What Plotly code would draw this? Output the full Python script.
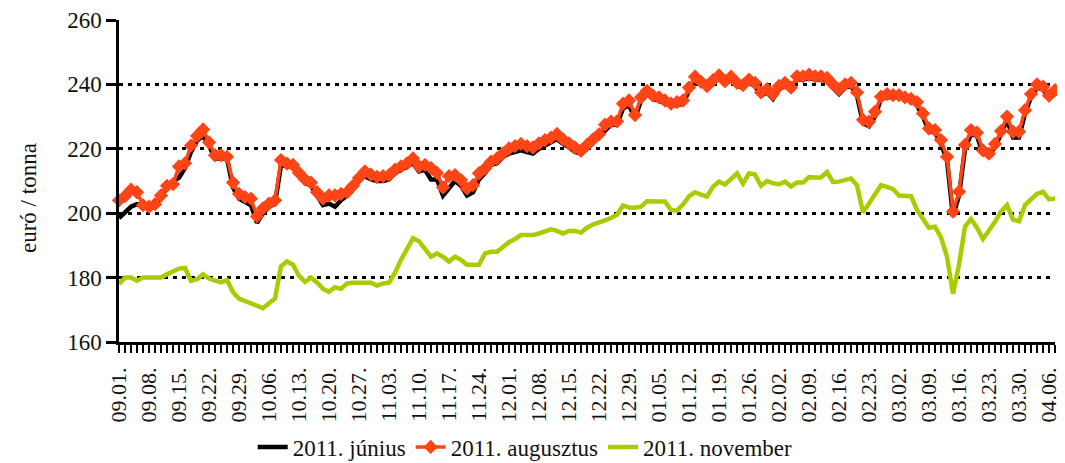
import plotly.graph_objects as go
import pandas as pd

# business-day categories (09.01.2010 - 04.07.2011)
dates = pd.bdate_range("2010-09-01", "2011-04-07")
categories = [d.strftime("%m.%d.") for d in dates]

tick_labels = ["09.01.", "09.08.", "09.15.", "09.22.", "09.29.", "10.06.", "10.13.", "10.20.",
               "10.27.", "11.03.", "11.10.", "11.17.", "11.24.", "12.01.", "12.08.", "12.15.",
               "12.22.", "12.29.", "01.05.", "01.12.", "01.19.", "01.26.", "02.02.", "02.09.",
               "02.16.", "02.23.", "03.02.", "03.09.", "03.16.", "03.23.", "03.30.", "04.06."]

junius = [198.5, 200.5, 202, 202.8, 202.5, 202, 202.5, 205, 208.5, 210, 211, 214, 219, 222.5, 224, 221,
          217, 217, 217, 208, 204.5, 203.5, 202.5, 197, 200, 202, 203, 215, 214.5, 214.5, 211.5, 209.5,
          208.5, 205.5, 202.5, 203, 202, 204, 205.5, 207.5, 210.5, 211.5, 210.5, 210, 210, 210.5, 212.5,
          213.5, 214.5, 215.5, 213, 213.5, 210.5, 210.5, 205.5, 208, 210, 208.5, 205.5, 206.5, 210.5,
          212.5, 215, 215.5, 217.5, 218.5, 219, 219.5, 219, 218.5, 220, 221, 222, 223, 221.5, 220.5, 219,
          218.5, 220, 222, 223.5, 226, 227.5, 227.5, 232.5, 233.5, 229.5, 235, 237, 235.5, 235, 234,
          233.5, 233.5, 234, 238, 241.5, 240, 239, 240.5, 242, 240, 241.5, 239.5, 239, 240.5, 239.5,
          236.5, 237.5, 235.5, 238.5, 239.5, 238.5, 241.5, 241.5, 242, 241.5, 241.5, 241, 239, 237, 239,
          239.5, 236.5, 228, 227, 230, 235.5, 236, 236, 236, 235.5, 235, 233.5, 230, 225.5, 225, 221.5,
          216.5, 199, 205.5, 220, 224.5, 224, 218.5, 218, 220.5, 224.5, 229, 223.5, 223.5, 231, 236,
          239, 238.5, 235.5, 237.5]

augusztus = [204, 205.3, 207.3, 206.5, 202.5, 202, 202.8, 205.5, 208.5, 209, 214.5, 215.5, 221, 224, 226,
             222, 218, 218, 217.5, 209.5, 206, 205, 204.5, 199, 201.5, 203, 204, 216.5, 215.4, 215, 212.5,
             210.5, 209.5, 206.5, 204.5, 205.5, 205.5, 206, 206.5, 208.5, 211, 213, 212, 211.3, 211.5,
             211.8, 213.5, 214.5, 215.5, 217, 214.5, 215, 214, 212.5, 208, 211.5, 211.8, 210.3, 207.7,
             208.7, 212.4, 213.9, 216, 217, 218.6, 220.1, 220.8, 221.5, 220.8, 220.4, 221.7, 222.7, 223.5,
             224.6, 222.9, 221.7, 220.4, 219.4, 221.2, 222.9, 224.5, 227.5, 228.4, 228.5, 234, 235,
             230.5, 236, 238, 236.5, 236, 235, 234, 234.5, 235, 239, 242.4, 240.8, 239.5, 241.3, 242.8,
             241, 242.4, 240.5, 239.8, 241.5, 240.5, 237.5, 238.5, 237, 239.5, 240.5, 239, 242.5, 242.5,
             243, 242.5, 242.5, 242, 240, 238.5, 240, 240.5, 237.5, 229, 228.4, 231.5, 236.2, 237, 236.7,
             236.7, 236, 235.5, 234.5, 231, 226.3, 225.8, 222.7, 217.5, 200.5, 206.7, 221.2, 225.8, 225,
             219.5, 218.5, 221.5, 225.5, 230, 225.3, 225.3, 232, 237, 240, 239.3, 236.5, 238.2]

november = [178, 180, 180, 179, 180, 180, 180, 180, 181, 182, 182.8, 183, 179, 179.5, 181, 179.7, 179,
            178.5, 179.2, 175.5, 173.5, 172.8, 172.2, 171.4, 170.5, 172, 173.5, 183.5, 185, 184, 180.5,
            178.7, 180, 178.5, 176.5, 175.6, 177, 176.5, 178.2, 178.4, 178.4, 178.4, 178.4, 177.5, 178.2,
            178.4, 181.5, 185.5, 189, 192.2, 191.3, 189, 186.5, 187.5, 186.5, 185, 186.5, 185.5, 184,
            184, 184, 187.5, 188, 188, 189.5, 191, 192, 193.2, 193.2, 193.2, 193.7, 194.5, 195, 194.5,
            193.7, 194.5, 194.5, 194, 195.5, 196.5, 197, 197.8, 198.5, 199.5, 202.4, 201.8, 201.7,
            202, 203.7, 203.8, 203.6, 203.6, 201, 200.8, 202.7, 205.2, 206.5, 205.8, 205.2, 208.2,
            209.8, 208.9, 210.8, 212.4, 209.2, 212.4, 212, 208.5, 210, 209.3, 209, 209.8, 208.3, 209.5,
            209.5, 211.2, 211.1, 211.1, 212.8, 209.7, 209.8, 210.3, 210.8, 208.7, 200.2, 203, 206,
            208.7, 208.2, 207.5, 205.5, 205.4, 205.3, 201, 198.5, 195.5, 195.8, 192.5, 186.5, 175, 184,
            195.8, 198.2, 195.5, 192, 194.5, 197.3, 200.5, 202.5, 198, 197.5, 202.5, 204.5, 206, 206.7,
            204.3, 204.6]

x_idx = list(range(len(categories)))
tick_pos = [categories.index(t) for t in tick_labels]

FONT = "Liberation Serif"
TXT = "#111111"

# the page body adds an 8px offset, so the figure is 8px smaller than the window
W, H = 1057, 455

fig = go.Figure()
fig.add_trace(go.Scatter(x=x_idx, y=junius, mode="lines", name="2011. június", cliponaxis=False,
                         line=dict(color="#000000", width=4.5)))
fig.add_trace(go.Scatter(x=x_idx, y=augusztus, mode="lines+markers", name="2011. augusztus",
                         cliponaxis=False,
                         line=dict(color="#FF4516", width=3.5),
                         marker=dict(symbol="diamond", size=11, color="#FF4516")))
fig.add_trace(go.Scatter(x=x_idx, y=november, mode="lines", name="2011. november", cliponaxis=False,
                         line=dict(color="#A9CC00", width=4.5)))

fig.update_layout(
    width=W, height=H,
    margin=dict(l=111, r=10, t=12, b=121, autoexpand=False),
    paper_bgcolor="white", plot_bgcolor="white",
    font=dict(family=FONT, size=23, color=TXT),
    showlegend=True,
    legend=dict(orientation="h", xref="paper", x=0.434, xanchor="center",
                yref="container", y=1 - 439 / H, yanchor="middle",
                font=dict(family=FONT, size=23, color=TXT), itemwidth=30, tracegroupgap=0),
    annotations=[dict(text="euró / tonna", textangle=-90, xref="paper", yref="paper",
                      x=(28 - 119) / 936, y=(342 - 198) / 322, xanchor="center", yanchor="middle",
                      showarrow=False, font=dict(family=FONT, size=23, color=TXT))],
)

fig.update_xaxes(
    range=[0, len(categories) - 1],
    tickmode="array", tickvals=tick_pos, ticktext=tick_labels, tickangle=-90,
    ticks="outside", ticklen=8, tickwidth=2, tickcolor="black", ticklabelstandoff=6,
    showline=True, linecolor="black", linewidth=2.5,
    showgrid=False, zeroline=False, automargin=False,
    minor=dict(tickmode="linear", tick0=0, dtick=1, ticks="outside", ticklen=8,
               tickwidth=2, tickcolor="black", showgrid=False),
    tickfont=dict(family=FONT, size=22, color=TXT),
)
fig.update_yaxes(
    range=[160, 260], tickmode="linear", tick0=160, dtick=20,
    ticks="outside", ticklen=10, tickwidth=2.5, tickcolor="black",
    showline=True, linecolor="black", linewidth=2.5,
    showgrid=True, gridcolor="black", gridwidth=2.5, griddash="4px,5px",
    zeroline=False, automargin=False,
    tickfont=dict(family=FONT, size=23, color=TXT),
)

fig.write_html("out.html")
